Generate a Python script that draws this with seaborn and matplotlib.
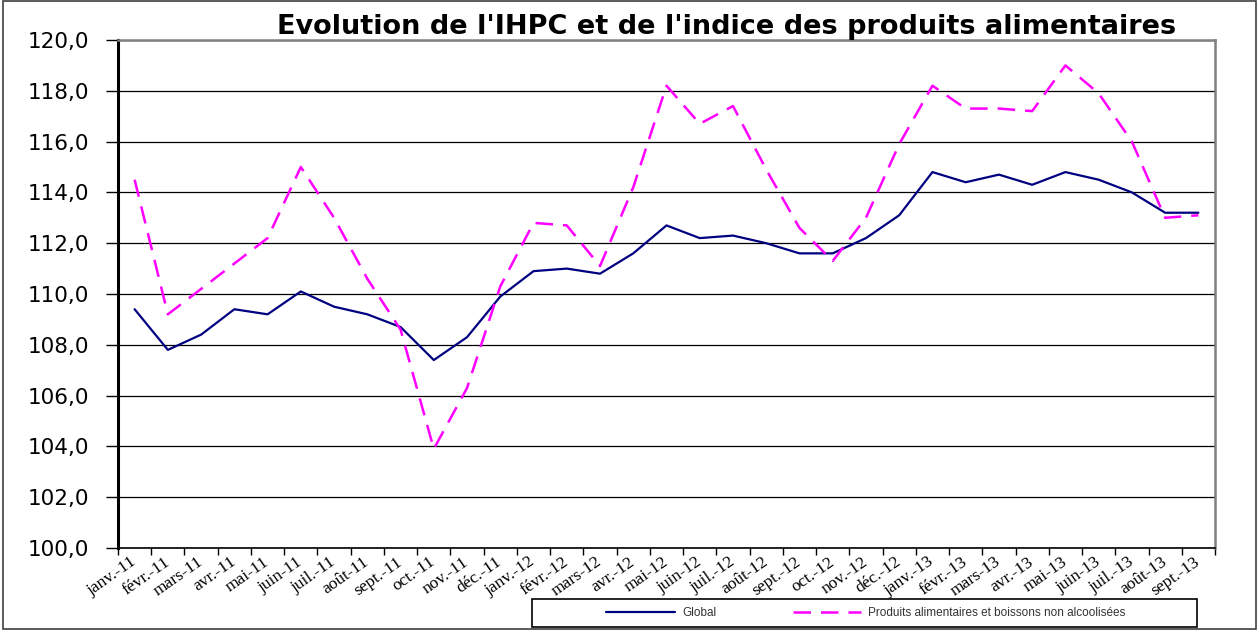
import matplotlib
matplotlib.use('Agg')

import matplotlib.pyplot as plt
import seaborn as sb
import pandas as pd
from matplotlib.patches import Rectangle


mois = ['janv.-11', 'févr.-11', 'mars-11', 'avr.-11', 'mai-11', 'juin-11',
        'juil.-11', 'août-11', 'sept.-11', 'oct.-11', 'nov.-11', 'déc.-11',
        'janv.-12', 'févr.-12', 'mars-12', 'avr.-12', 'mai-12', 'juin-12',
        'juil.-12', 'août-12', 'sept.-12', 'oct.-12', 'nov.-12', 'déc.-12',
        'janv.-13', 'févr.-13', 'mars-13', 'avr.-13', 'mai-13', 'juin-13',
        'juil.-13', 'août-13', 'sept.-13']

global_idx = [109.4, 107.8, 108.4, 109.4, 109.2, 110.1, 109.5, 109.2, 108.7,
              107.4, 108.3, 109.9, 110.9, 111.0, 110.8, 111.6, 112.7, 112.2,
              112.3, 112.0, 111.6, 111.6, 112.2, 113.1, 114.8, 114.4, 114.7,
              114.3, 114.8, 114.5, 114.0, 113.2, 113.2]

alim_idx = [114.5, 109.2, 110.2, 111.2, 112.2, 115.0, 113.0, 110.6, 108.6,
            103.9, 106.3, 110.3, 112.8, 112.7, 111.1, 114.2, 118.2, 116.7,
            117.4, 114.9, 112.6, 111.3, 113.0, 115.9, 118.2, 117.3, 117.3,
            117.2, 119.0, 117.9, 116.0, 113.0, 113.1]

lab_global = 'Global'
lab_alim = 'Produits alimentaires et boissons non alcoolisées'
titre = "Evolution de l'IHPC et de l'indice des produits alimentaires"

df = pd.DataFrame({'pos': range(len(mois)), 'global': global_idx, 'alim': alim_idx})

sb.set_style('white')
plt.rcParams['font.family'] = ['DejaVu Sans']
plt.rcParams['text.color'] = 'black'
plt.rcParams['xtick.color'] = 'black'
plt.rcParams['ytick.color'] = 'black'

W, H = 1259, 630
fig = plt.figure(figsize=(W / 100, H / 100), dpi=100)
ax = fig.add_axes([118 / W, 82 / H, 1097 / W, 508 / H])

sb.lineplot(data=df, x='pos', y='global', color='#000080', lw=1.6,
            label=lab_global, ax=ax)
sb.lineplot(data=df, x='pos', y='alim', color='#FF00FF', lw=1.8,
            linestyle=(0, (7, 4)), label=lab_alim, ax=ax)

# axe y
ax.set_ylim(100, 120)
ax.set_yticks([100 + 2 * i for i in range(11)])
ax.set_yticklabels([f"{100 + 2 * i:.1f}".replace('.', ',') for i in range(11)])
ax.yaxis.grid(True, color='black', lw=0.9)
ax.tick_params(axis='y', length=9, width=1, color='black', labelcolor='black',
               pad=12, labelsize=15.5, left=True)

# axe x : ticks entre les catégories
ax.set_xlim(-0.5, len(mois) - 0.5)
ax.set_xticks(range(len(mois)))
ax.set_xticks([i - 0.5 for i in range(len(mois) + 1)], minor=True)
ax.set_xticklabels(mois, rotation=35, ha='right', va='center',
                   rotation_mode='anchor', family='Liberation Serif', fontsize=12.5)
ax.tick_params(axis='x', which='major', length=0, pad=9, labelcolor='black')
ax.tick_params(axis='x', which='minor', length=5, width=1, color='black',
               bottom=True)
ax.set_xlabel('')
ax.set_ylabel('')

for s in ['left', 'bottom']:
    ax.spines[s].set_color('black')
ax.spines['left'].set_linewidth(2.2)
ax.spines['bottom'].set_linewidth(1.2)
for s in ['top', 'right']:
    ax.spines[s].set_color('#808080')
    ax.spines[s].set_linewidth(1.8)

# légende sous le graphique
h, l = ax.get_legend_handles_labels()
ax.get_legend().remove()
leg = fig.legend(h, l, loc='center', bbox_to_anchor=(866 / W, 1 - 613 / H),
                 ncol=2, frameon=False, prop={'family': 'Liberation Sans', 'size': 8.5},
                 handlelength=5.8, handletextpad=0.6, columnspacing=6.5, borderpad=0)
for t in leg.get_texts():
    t.set_color('#333333')
fig.patches.append(Rectangle((532 / W, 3 / H), 665 / W, 28 / H,
                             transform=fig.transFigure, fill=False,
                             edgecolor='black', lw=1.2))
fig.patches.append(Rectangle((0.002, 0.001), 0.996, 0.997,
                             transform=fig.transFigure, fill=False,
                             edgecolor='#404040', lw=1.2))

fig.text(727 / W, 1 - 27 / H, titre, ha='center', va='center',
         fontsize=19.5, fontweight='bold', color='black')

fig.savefig('out.png', dpi=100)
